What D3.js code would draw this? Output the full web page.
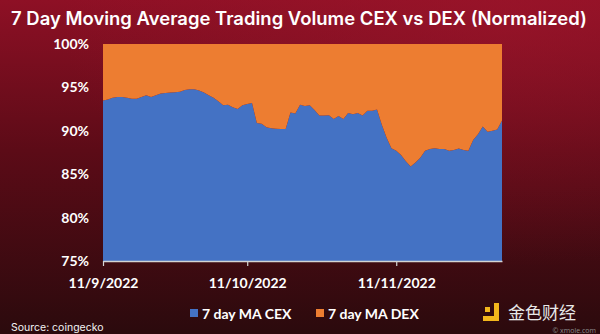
<!DOCTYPE html>
<html>
<head>
<meta charset="utf-8">
<script src="https://cdn.jsdelivr.net/npm/d3@7"></script>
<style>
  html, body { margin: 0; padding: 0; background: #2a090d; }
  svg { display: block; }
</style>
</head>
<body>
<svg id="chart" width="600" height="334"></svg>
<script>
// Daily share of 7-day moving-average trading volume, CEX vs DEX (percent of total)
const startDay = new Date(2022, 8, 11);
const endDay = new Date(2022, 11, 4);   // exclusive
const dates = d3.timeDay.range(startDay, endDay);

const cexShare = [
  93.5, 93.6, 93.8, 93.9, 93.9, 93.8, 93.7, 93.7, 93.9, 94.1,
  93.9, 94.1, 94.3, 94.35, 94.4, 94.45, 94.5, 94.7, 94.8, 94.8,
  94.65, 94.4, 94.1, 93.8, 93.4, 92.95, 93.0, 92.7, 92.5, 92.95,
  93.1, 93.2, 90.9, 90.8, 90.4, 90.3, 90.25, 90.2, 90.2, 92.1,
  92.0, 93.0, 92.85, 92.95, 92.4, 91.75, 91.75, 91.8, 91.35, 91.7,
  91.35, 92.05, 91.9, 92.05, 91.75, 92.3, 92.3, 92.45, 90.7, 89.2,
  88.0, 87.7, 87.2, 86.5, 85.9, 86.35, 86.9, 87.7, 87.9, 88.0,
  87.9, 87.9, 87.7, 87.8, 87.95, 87.8, 87.7, 88.95, 89.6, 90.5,
  89.9, 90.0, 90.15, 91.2
];
const dexShare = [
  6.5, 6.4, 6.2, 6.1, 6.1, 6.2, 6.3, 6.3, 6.1, 5.9,
  6.1, 5.9, 5.7, 5.65, 5.6, 5.55, 5.5, 5.3, 5.2, 5.2,
  5.35, 5.6, 5.9, 6.2, 6.6, 7.05, 7.0, 7.3, 7.5, 7.05,
  6.9, 6.8, 9.1, 9.2, 9.6, 9.7, 9.75, 9.8, 9.8, 7.9,
  8.0, 7.0, 7.15, 7.05, 7.6, 8.25, 8.25, 8.2, 8.65, 8.3,
  8.65, 7.95, 8.1, 7.95, 8.25, 7.7, 7.7, 7.55, 9.3, 10.8,
  12.0, 12.3, 12.8, 13.5, 14.1, 13.65, 13.1, 12.3, 12.1, 12.0,
  12.1, 12.1, 12.3, 12.2, 12.05, 12.2, 12.3, 11.05, 10.4, 9.5,
  10.1, 10.0, 9.85, 8.8
];

const seriesKeys = ["cex", "dex"];
const seriesLabels = ["7 day MA CEX", "7 day MA DEX"];
const seriesColors = ["#4472c4", "#ed7d31"];

const xTickDates = [new Date(2022, 8, 11), new Date(2022, 9, 11), new Date(2022, 10, 11)];
const yTickValues = [0.75, 0.80, 0.85, 0.90, 0.95, 1.00];

const titleText = "7 Day Moving Average Trading Volume CEX vs DEX (Normalized)";
const sourceText = "Source: coingecko";

// ---- layout ----
const W = 600, H = 334;
const plot = { left: 103, right: 502, top: 44, bottom: 261 };

const svg = d3.select("#chart");
const defs = svg.append("defs");

// background: deep crimson fading to near black
const bg = defs.append("linearGradient").attr("id", "bgGrad")
  .attr("x1", 0).attr("y1", 0).attr("x2", 0).attr("y2", 1);
bg.append("stop").attr("offset", "0%").attr("stop-color", "#8e1025");
bg.append("stop").attr("offset", "45%").attr("stop-color", "#5c0b17");
bg.append("stop").attr("offset", "100%").attr("stop-color", "#2b0a0d");

const glow = defs.append("radialGradient").attr("id", "glowGrad")
  .attr("cx", 0.85).attr("cy", 0.05).attr("r", 0.75);
glow.append("stop").attr("offset", "0%").attr("stop-color", "#a0162c").attr("stop-opacity", 0.55);
glow.append("stop").attr("offset", "100%").attr("stop-color", "#a0162c").attr("stop-opacity", 0);

svg.append("rect").attr("width", W).attr("height", H).attr("fill", "url(#bgGrad)");
svg.append("rect").attr("width", W).attr("height", H).attr("fill", "url(#glowGrad)");

defs.append("clipPath").attr("id", "plotClip")
  .append("rect")
  .attr("x", plot.left).attr("y", plot.top)
  .attr("width", plot.right - plot.left).attr("height", plot.bottom - plot.top);

// ---- scales ----
const x = d3.scaleTime()
  .domain([dates[0], dates[dates.length - 1]])
  .range([plot.left, plot.right]);
const y = d3.scaleLinear().domain([0.75, 1.0]).range([plot.bottom, plot.top]);

const rows = dates.map((d, i) => ({ date: d, cex: cexShare[i], dex: dexShare[i] }));
const stacked = d3.stack().keys(seriesKeys).offset(d3.stackOffsetExpand)(rows);

const area = d3.area()
  .x(d => x(d.data.date))
  .y0(d => y(d[0]))
  .y1(d => y(d[1]));

svg.append("g").attr("clip-path", "url(#plotClip)")
  .selectAll("path")
  .data(stacked)
  .join("path")
  .attr("fill", (d, i) => seriesColors[i])
  .attr("d", area);

// ---- axes ----
const fmtDate = d3.timeFormat("%-d/%-m/%Y");
const xAxis = svg.append("g")
  .attr("transform", `translate(0,${plot.bottom})`)
  .call(d3.axisBottom(x).tickValues(xTickDates).tickFormat(fmtDate).tickSize(5).tickSizeOuter(0));
xAxis.select(".domain").attr("stroke", "#d4d4d4").attr("stroke-width", 1.5);
xAxis.selectAll(".tick line").attr("stroke", "#d4d4d4").attr("stroke-width", 1.2);
xAxis.selectAll(".tick text")
  .attr("fill", "#ffffff")
  .attr("font-family", "Lato, 'Noto Sans', sans-serif")
  .attr("font-weight", 700)
  .attr("font-size", 14)
  .attr("dy", null)
  .attr("y", 27);

const yAxis = svg.append("g")
  .attr("transform", `translate(${plot.left},0)`)
  .call(d3.axisLeft(y).tickValues(yTickValues).tickFormat(d3.format(".0%")).tickSize(0).tickPadding(14));
yAxis.select(".domain").remove();
yAxis.selectAll(".tick text")
  .attr("fill", "#ffffff")
  .attr("font-family", "Lato, 'Noto Sans', sans-serif")
  .attr("font-weight", 700)
  .attr("font-size", 14);

// ---- title ----
const title = svg.append("text")
  .attr("x", 11).attr("y", 25)
  .attr("fill", "#ffffff")
  .attr("font-family", "Inter, 'Open Sans', sans-serif")
  .attr("font-weight", 600)
  .attr("font-size", 21)
  .text(titleText);
const tw = title.node().getComputedTextLength();
const targetW = 576;
title.attr("font-size", 21 * targetW / tw);

// ---- legend ----
const legend = svg.append("g").attr("transform", "translate(190,0)");
const legendOffsets = [0, 126];
seriesLabels.forEach((lab, i) => {
  const g = legend.append("g").attr("transform", `translate(${legendOffsets[i]},0)`);
  g.append("rect").attr("x", 0).attr("y", 309).attr("width", 8).attr("height", 8)
    .attr("fill", seriesColors[i]);
  g.append("text").attr("x", 12).attr("y", 318.5)
    .attr("fill", "#ffffff")
    .attr("font-family", "Lato, 'Noto Sans', sans-serif")
    .attr("font-weight", 700)
    .attr("font-size", 14)
    .text(lab);
});

// ---- source note ----
svg.append("text")
  .attr("x", 11).attr("y", 331)
  .attr("fill", "#f2f2f2")
  .attr("font-family", "Inter, 'Open Sans', sans-serif")
  .attr("font-size", 10.5)
  .text(sourceText);

// ---- publisher mark ----
const mark = svg.append("g");
mark.append("rect").attr("x", 485).attr("y", 307).attr("width", 5).attr("height", 5).attr("fill", "#f3b61c");
mark.append("path")
  .attr("d", "M494,303 h5 v18 h-16 v-5 h11 z")
  .attr("fill", "#f3b61c");
mark.append("text")
  .attr("x", 508).attr("y", 319)
  .attr("fill", "#e8e8e8")
  .attr("font-family", "'Noto Sans CJK SC', sans-serif")
  .attr("font-size", 17)
  .text("金色财经");
mark.append("text")
  .attr("x", 596).attr("y", 333)
  .attr("text-anchor", "end")
  .attr("fill", "#8a8a8a")
  .attr("font-family", "'Open Sans', sans-serif")
  .attr("font-size", 7)
  .text("© xmole.com");
</script>
</body>
</html>
